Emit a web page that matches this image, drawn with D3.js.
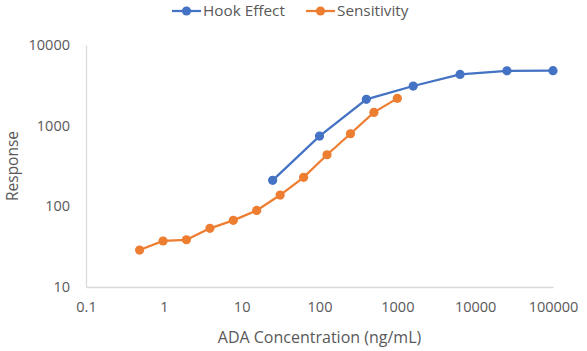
<!DOCTYPE html>
<html>
<head>
<meta charset="utf-8">
<script src="https://cdn.jsdelivr.net/npm/d3@7"></script>
<style>
  body { margin: 0; background: #fff; }
  text { font-family: "Open Sans", sans-serif; fill: #595959; }
</style>
</head>
<body>
<div id="chart"></div>
<script>
// data
const seriesNames = ["Hook Effect", "Sensitivity"];
const colors = ["#4472C4", "#ED7D31"];

const hookX = [25, 100, 400, 1600, 6400, 25600, 100000];
const hookY = [210, 743, 2120, 3100, 4320, 4790, 4800];

const sensX = [0.488, 0.977, 1.95, 3.91, 7.81, 15.6, 31.25, 62.5, 125, 250, 500, 1000];
const sensY = [28.7, 37.2, 38.5, 53.4, 67, 89, 138, 229, 436, 794, 1460, 2180];

const xTicks = [0.1, 1, 10, 100, 1000, 10000, 100000];
const yTicks = [10, 100, 1000, 10000];

const width = 587, height = 351;
const margin = {top: 45, right: 34, bottom: 64, left: 86};

const svg = d3.select("#chart").append("svg")
    .attr("width", width)
    .attr("height", height);

const x = d3.scaleLog()
    .domain([0.1, 100000])
    .range([margin.left, width - margin.right]);

const y = d3.scaleLog()
    .domain([10, 10000])
    .range([height - margin.bottom, margin.top]);

// axes, Excel style: light line, no ticks
svg.append("g")
    .attr("transform", `translate(0,${height - margin.bottom})`)
    .call(d3.axisBottom(x).tickValues(xTicks).tickSize(0).tickPadding(15)
      .tickFormat(d => String(d)))
    .call(g => g.select(".domain").attr("stroke", "#d9d9d9").attr("stroke-width", 1.3))
    .call(g => g.selectAll("text").attr("font-size", 14.5).attr("fill", "#595959")
      .attr("font-family", "Open Sans, sans-serif"));

svg.append("g")
    .attr("transform", `translate(${margin.left},0)`)
    .call(d3.axisLeft(y).tickValues(yTicks).tickSize(0).tickPadding(16)
      .tickFormat(d => String(d)))
    .call(g => g.select(".domain").attr("stroke", "#d9d9d9").attr("stroke-width", 1.3))
    .call(g => g.selectAll("text").attr("font-size", 14.5).attr("fill", "#595959")
      .attr("font-family", "Open Sans, sans-serif"));

// axis titles
svg.append("text")
    .attr("x", (margin.left + width - margin.right) / 2)
    .attr("y", 343)
    .attr("text-anchor", "middle")
    .attr("font-size", 16)
    .text("ADA Concentration (ng/mL)");

svg.append("text")
    .attr("transform", `translate(18,${(margin.top + height - margin.bottom) / 2}) rotate(-90)`)
    .attr("text-anchor", "middle")
    .attr("font-size", 15.5)
    .text("Response");

// the two series
const series = [
  {name: seriesNames[0], color: colors[0], points: hookX.map((v, i) => [v, hookY[i]])},
  {name: seriesNames[1], color: colors[1], points: sensX.map((v, i) => [v, sensY[i]])}
];

const line = d3.line()
    .x(d => x(d[0]))
    .y(d => y(d[1]));

const sg = svg.append("g")
  .selectAll("g")
  .data(series)
  .join("g");

sg.append("path")
    .attr("d", d => line(d.points))
    .attr("fill", "none")
    .attr("stroke", d => d.color)
    .attr("stroke-width", 2.25);

sg.selectAll("circle")
  .data(d => d.points.map(p => ({p, color: d.color})))
  .join("circle")
    .attr("cx", d => x(d.p[0]))
    .attr("cy", d => y(d.p[1]))
    .attr("r", 4.6)
    .attr("fill", d => d.color);

// legend at the top
const legendX = [172, 306];
const lg = svg.append("g")
  .selectAll("g")
  .data(series)
  .join("g")
    .attr("transform", (d, i) => `translate(${legendX[i]},11)`);

lg.append("line")
    .attr("x1", 0).attr("x2", 29)
    .attr("stroke", d => d.color)
    .attr("stroke-width", 2.25);

lg.append("circle")
    .attr("cx", 14.5)
    .attr("r", 4.6)
    .attr("fill", d => d.color);

lg.append("text")
    .attr("x", 31)
    .attr("dy", "0.35em")
    .attr("font-size", 15.3)
    .text(d => d.name);
</script>
</body>
</html>
